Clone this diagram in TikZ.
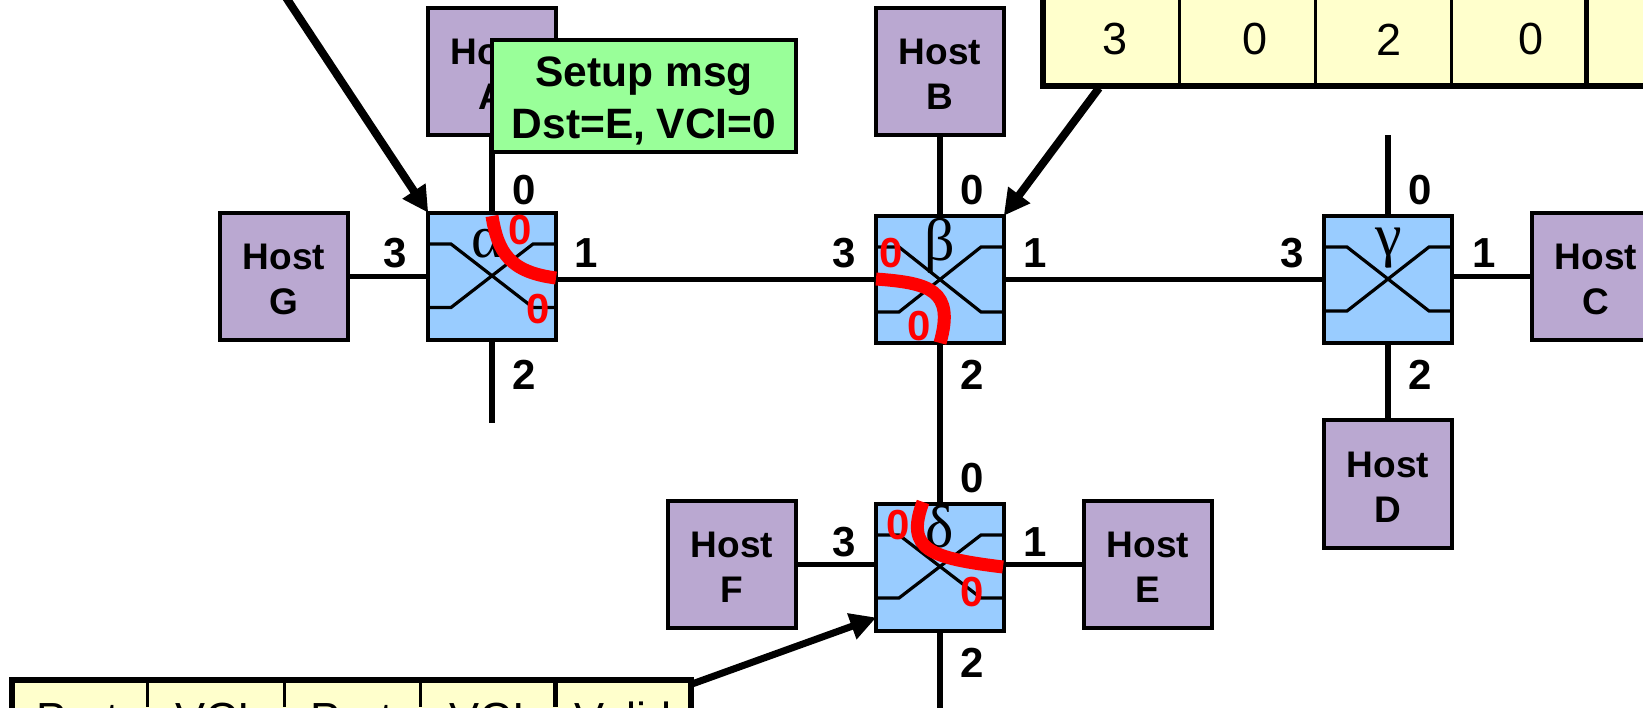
\documentclass[tikz,border=0pt]{standalone}
\usepackage{fontspec}
\setmainfont{Liberation Sans}
\newfontfamily\grk{Liberation Serif}
\usetikzlibrary{arrows.meta,calc}
\definecolor{hostc}{HTML}{BAA8D1}
\definecolor{swc}{HTML}{99CCFF}
\definecolor{msgc}{HTML}{99FF99}
\definecolor{tabc}{HTML}{FFFFCC}
\newcommand{\hostlabel}[1]{\rule{0pt}{31pt}Host\\#1}
\tikzset{
  hostbox/.style={draw=black,fill=hostc,line width=4pt,minimum width=127.5pt,minimum height=127.5pt,inner sep=0pt,outer sep=0pt,align=center,font=\fontsize{37}{45}\selectfont\bfseries},
  swbox/.style={draw=black,fill=swc,line width=4pt,minimum width=127.5pt,minimum height=127.5pt,inner sep=0pt,outer sep=0pt},
  msgbox/.style={draw=black,fill=msgc,line width=4pt,minimum width=304pt,minimum height=112pt,inner sep=0pt,outer sep=0pt,align=center,font=\fontsize{42.5}{52}\selectfont\bfseries},
  tabbox/.style={draw=black,fill=tabc,line width=6pt,inner sep=0pt,outer sep=0pt},
  tabtext/.style={inner sep=0pt,font=\fontsize{45}{45}\selectfont},
  portnum/.style={inner sep=0pt,xshift=1pt,yshift=-1pt,font=\fontsize{42}{42}\selectfont\bfseries},
  redzero/.style={inner sep=0pt,text=red,font=\fontsize{42}{42}\selectfont\bfseries},
  greek/.style={inner sep=0pt,font=\fontsize{60}{60}\selectfont\grk},
  link/.style={line width=5.5pt},
  inner/.style={line width=3.2pt,line join=miter},
  divthin/.style={line width=3pt},
  divthick/.style={line width=5pt},
  pointer/.style={line width=8pt,-{Triangle[length=26pt,width=26pt]}},
  flow/.style={line width=13pt,draw=red},
}
\newcommand{\xsw}[3]{\begin{scope}[shift={(#1.center)}]
  \draw[inner] (-63,#2) -- (-41,#2) -- (41,#3) -- (63,#3);
  \draw[inner] (-63,#3) -- (-41,#3) -- (41,#2) -- (63,#2);
\end{scope}}
\begin{document}
\begin{tikzpicture}[x=1pt,y=-1pt]
\path[use as bounding box,clip] (0,0) rectangle (1643,707);
% hosts
\node[hostbox] (hostA) at (492,71.5) {\hostlabel{A}};
\node[hostbox] (hostB) at (940,71.5) {\hostlabel{B}};
\node[hostbox] (hostG) at (284,276.5) {\hostlabel{G}};
\node[hostbox] (hostC) at (1596,276.5) {\hostlabel{C}};
\node[hostbox] (hostD) at (1388,484) {\hostlabel{D}};
\node[hostbox] (hostF) at (732,564.5) {\hostlabel{F}};
\node[hostbox] (hostE) at (1148,564.5) {\hostlabel{E}};
% switches
\node[swbox] (alpha) at (492,276.5) {};
\node[swbox] (beta) at (940,279.5) {};
\node[swbox] (gamma) at (1388,279.5) {};
\node[swbox] (delta) at (940,567.5) {};
% free ends
\coordinate (aS) at (492,423);
\coordinate (gN) at (1388,135);
\coordinate (dS) at (940,720);
% links
\draw[link] (hostA) -- (alpha);
\draw[link] (hostG) -- (alpha);
\draw[link] (alpha.south) -- (aS);
\draw[link] (beta.west) -- (beta.west -| alpha.east);
\draw[link] (hostB) -- (beta);
\draw[link] (beta) -- (delta);
\draw[link] (beta.east) -- (gamma.west);
\draw[link] (gamma.north) -- (gN);
\draw[link] (gamma) -- (hostD);
\draw[link] (gamma.east |- hostC.west) -- (hostC.west);
\draw[link] (hostF.east) -- (delta.west |- hostF.east);
\draw[link] (delta.east |- hostE.west) -- (hostE.west);
\draw[link] (delta.south) -- (dS);
% switch internals
\node[greek] (galpha) at (487,244) {α};
\node[greek] (gbeta) at (940,246) {β};
\node[greek] (ggamma) at (1389,248) {γ};
\node[greek] (gdelta) at (940,527) {δ};
\xsw{alpha}{-32.5}{31}
\xsw{beta}{-32.5}{32.5}
\xsw{gamma}{-32.5}{31.5}
\xsw{delta}{-32.5}{30.5}
% port numbers
\node[portnum] (a0) at (523,189) {0};
\node[portnum] (a1) at (585,252) {1};
\node[portnum] (a2) at (523,374) {2};
\node[portnum] (a3) at (394,252) {3};
\node[portnum] (b0) at (971,189) {0};
\node[portnum] (b1) at (1034,252) {1};
\node[portnum] (b2) at (971,374) {2};
\node[portnum] (b3) at (843.5,252) {3};
\node[portnum] (c0) at (1419,189) {0};
\node[portnum] (c1) at (1483,252) {1};
\node[portnum] (c2) at (1419,374) {2};
\node[portnum] (c3) at (1291,252) {3};
\node[portnum] (d0) at (971,477) {0};
\node[portnum] (d1) at (1034,541) {1};
\node[portnum] (d2) at (971,662) {2};
\node[portnum] (d3) at (843.5,541) {3};
% tables
\node[tabbox,minimum width=800pt,minimum height=120pt,anchor=south west] (tabR) at (1042.75,86.25) {};
\node[tabbox,minimum width=679pt,minimum height=120pt,anchor=north west] (tabL) at (11.75,679.75) {};
\draw[divthin] (1179,0) -- (1179,86);
\draw[divthin] (1315,0) -- (1315,86);
\draw[divthin] (1451,0) -- (1451,86);
\draw[divthick] (1586,0) -- (1586,86);
\draw[divthin] (147.5,680) -- (147.5,707);
\draw[divthin] (284,680) -- (284,707);
\draw[divthin] (420,680) -- (420,707);
\draw[divthick] (555,680) -- (555,707);
\node[tabtext] (r1) at (1115,39.5) {3};
\node[tabtext] (r2) at (1255,39.5) {0};
\node[tabtext] (r3) at (1389,39.5) {2};
\node[tabtext] (r4) at (1531,39.5) {0};
\node[tabtext,anchor=base] (l1) at (78,734) {Port};
\node[tabtext,anchor=base] (l2) at (213,734) {VCI};
\node[tabtext,anchor=base] (l3) at (352,734) {Port};
\node[tabtext,anchor=base] (l4) at (487,734) {VCI};
\node[tabtext,anchor=base] (l5) at (623,734) {Valid};
% pointers
\coordinate (pA) at (285,-4);
\coordinate (pB) at (1099,88);
\coordinate (pC) at (692,684);
\draw[pointer] (pA) -- (alpha.north west);
\draw[pointer] (pB) -- (beta.north east);
\draw[pointer,line width=7pt] (pC) -- ($(delta.west)+(0,50)$);
% red flows
\draw[flow] (492,216) .. controls (498,253) and (510,272) .. (556,278);
\draw[flow] (876,279) .. controls (930,283) and (955,290) .. (940,343);
\draw[flow] (923,502) .. controls (905,550) and (930,558) .. (1003,567);
\node[redzero] (ra1) at (520.5,230) {0};
\node[redzero] (ra2) at (538,309) {0};
\node[redzero] (rb1) at (891,253) {0};
\node[redzero] (rb2) at (919,326) {0};
\node[redzero] (rd1) at (898,525) {0};
\node[redzero] (rd2) at (972,592) {0};
% message
\node[msgbox] (msg) at (644,95.5) {\rule{0pt}{40.5pt}Setup msg\\Dst=E, VCI=0};
\end{tikzpicture}
\end{document}
